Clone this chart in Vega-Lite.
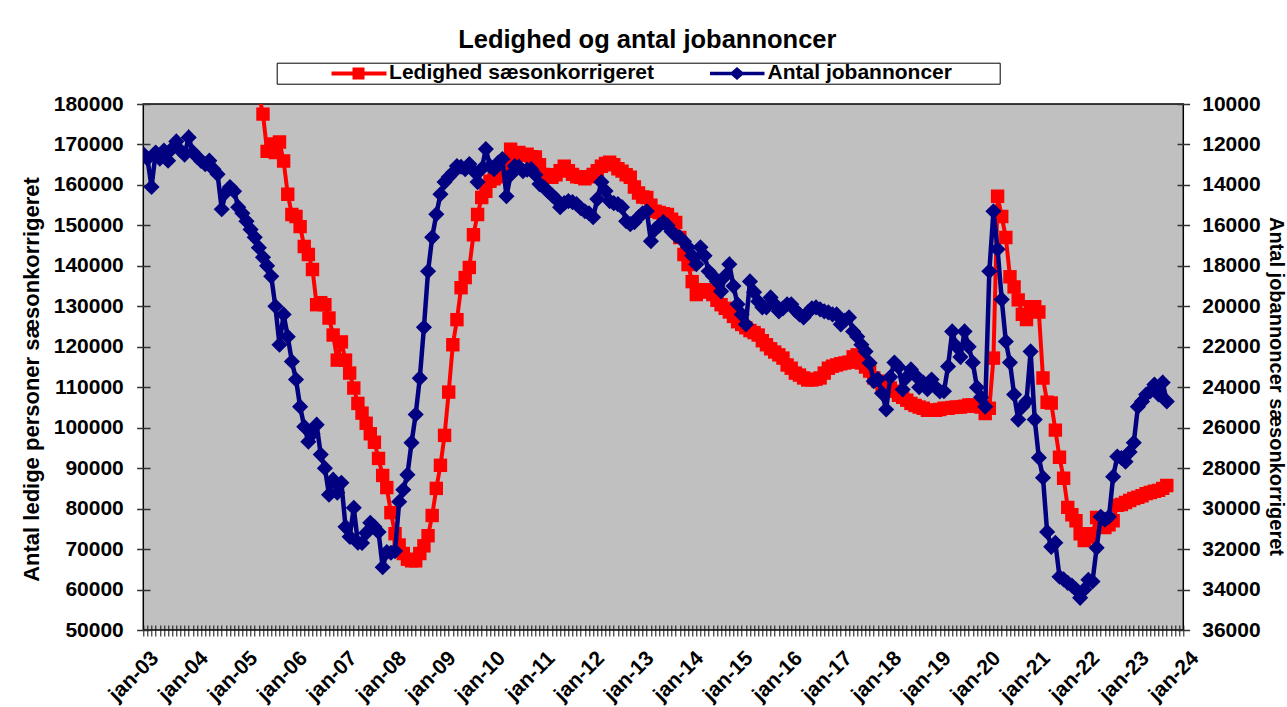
{
"$schema": "https://vega.github.io/schema/vega-lite/v6.json",
"width": 1040,
"height": 526,
"autosize": {"type": "none"},
"padding": {"left": 143.3, "top": 104, "right": 103.7, "bottom": 77},
"background": "white",
"config": {"view": {"fill": "#C0C0C0", "stroke": "#000", "strokeWidth": 1.5}, "font": "Liberation Sans"},
"title": {"text": "Ledighed og antal jobannoncer", "font": "Liberation Sans", "fontSize": 25.5, "fontWeight": "bold", "color": "#000", "anchor": "middle", "dx": -16, "offset": 9},
"datasets": {
"red": [
{"m":27,"v":188000},{"m":28,"v":182200},{"m":29,"v":177500},{"m":30,"v":168300},{"m":31,"v":170100},{"m":32,"v":168000},{"m":33,"v":170600},{"m":34,"v":165900},{"m":35,"v":157700},
{"m":36,"v":152700},{"m":37,"v":152200},{"m":38,"v":149700},{"m":39,"v":144800},{"m":40,"v":142800},{"m":41,"v":139100},{"m":42,"v":130400},{"m":43,"v":130900},{"m":44,"v":130400},{"m":45,"v":127100},{"m":46,"v":122900},{"m":47,"v":116700},
{"m":48,"v":121200},{"m":49,"v":116700},{"m":50,"v":113500},{"m":51,"v":109800},{"m":52,"v":106000},{"m":53,"v":103600},{"m":54,"v":101100},{"m":55,"v":98500},{"m":56,"v":96400},{"m":57,"v":92400},{"m":58,"v":88200},{"m":59,"v":85200},
{"m":60,"v":79000},{"m":61,"v":73800},{"m":62,"v":71000},{"m":63,"v":68900},{"m":64,"v":67500},{"m":65,"v":67100},{"m":66,"v":67100},{"m":67,"v":68900},{"m":68,"v":70800},{"m":69,"v":73300},{"m":70,"v":78300},{"m":71,"v":85000},
{"m":72,"v":90700},{"m":73,"v":98100},{"m":74,"v":108800},{"m":75,"v":120500},{"m":76,"v":126700},{"m":77,"v":134600},{"m":78,"v":137100},{"m":79,"v":139600},{"m":80,"v":147700},{"m":81,"v":152700},{"m":82,"v":156900},{"m":83,"v":158400},
{"m":84,"v":160900},{"m":85,"v":161500},{"m":86,"v":162000},{"m":87,"v":162600},{"m":88,"v":164000},{"m":89,"v":168800},{"m":90,"v":167000},{"m":91,"v":168000},{"m":92,"v":167300},{"m":93,"v":167600},{"m":94,"v":167000},{"m":95,"v":166900},
{"m":96,"v":165000},{"m":97,"v":162600},{"m":98,"v":162200},{"m":99,"v":161900},{"m":100,"v":162500},{"m":101,"v":163500},{"m":102,"v":164600},{"m":103,"v":163500},{"m":104,"v":162600},{"m":105,"v":162000},{"m":106,"v":161900},{"m":107,"v":161500},
{"m":108,"v":162000},{"m":109,"v":162600},{"m":110,"v":163500},{"m":111,"v":164600},{"m":112,"v":165300},{"m":113,"v":165600},{"m":114,"v":165000},{"m":115,"v":164000},{"m":116,"v":163400},{"m":117,"v":162500},{"m":118,"v":161900},{"m":119,"v":159500},
{"m":120,"v":158000},{"m":121,"v":157000},{"m":122,"v":156900},{"m":123,"v":155000},{"m":124,"v":153500},{"m":125,"v":153200},{"m":126,"v":152900},{"m":127,"v":152700},{"m":128,"v":151500},{"m":129,"v":150700},{"m":130,"v":147000},{"m":131,"v":142800},
{"m":132,"v":140300},{"m":133,"v":136100},{"m":134,"v":132900},{"m":135,"v":133500},{"m":136,"v":134100},{"m":137,"v":133800},{"m":138,"v":132900},{"m":139,"v":131500},{"m":140,"v":130400},{"m":141,"v":129500},{"m":142,"v":128600},{"m":143,"v":127500},
{"m":144,"v":126200},{"m":145,"v":125500},{"m":146,"v":124700},{"m":147,"v":124000},{"m":148,"v":123500},{"m":149,"v":122900},{"m":150,"v":121500},{"m":151,"v":120500},{"m":152,"v":119500},{"m":153,"v":118700},{"m":154,"v":118000},{"m":155,"v":117200},
{"m":156,"v":115500},{"m":157,"v":114700},{"m":158,"v":113500},{"m":159,"v":113000},{"m":160,"v":112300},{"m":161,"v":111800},{"m":162,"v":111800},{"m":163,"v":112000},{"m":164,"v":112300},{"m":165,"v":113500},{"m":166,"v":114700},{"m":167,"v":115200},
{"m":168,"v":115500},{"m":169,"v":115800},{"m":170,"v":116000},{"m":171,"v":116200},{"m":172,"v":117500},{"m":173,"v":118000},{"m":174,"v":116000},{"m":175,"v":115000},{"m":176,"v":114000},{"m":177,"v":112300},{"m":178,"v":111500},{"m":179,"v":110500},
{"m":180,"v":110000},{"m":181,"v":109800},{"m":182,"v":109000},{"m":183,"v":108000},{"m":184,"v":107500},{"m":185,"v":106800},{"m":186,"v":106000},{"m":187,"v":105500},{"m":188,"v":105100},{"m":189,"v":104800},{"m":190,"v":104300},{"m":191,"v":104300},
{"m":192,"v":104300},{"m":193,"v":104500},{"m":194,"v":104800},{"m":195,"v":104800},{"m":196,"v":105000},{"m":197,"v":105100},{"m":198,"v":105100},{"m":199,"v":105300},{"m":200,"v":105600},{"m":201,"v":105600},{"m":202,"v":105300},{"m":203,"v":105100},
{"m":204,"v":103500},{"m":205,"v":104800},{"m":206,"v":117200},{"m":207,"v":157200},{"m":208,"v":152200},{"m":209,"v":147000},{"m":210,"v":137300},{"m":211,"v":134800},{"m":212,"v":131600},{"m":213,"v":128000},{"m":214,"v":126700},{"m":215,"v":129900},
{"m":216,"v":129900},{"m":217,"v":128600},{"m":218,"v":112300},{"m":219,"v":106300},{"m":220,"v":106100},{"m":221,"v":99400},{"m":222,"v":92700},{"m":223,"v":87500},{"m":224,"v":80300},{"m":225,"v":78500},{"m":226,"v":77000},{"m":227,"v":73800},
{"m":228,"v":72100},{"m":229,"v":73000},{"m":230,"v":73800},{"m":231,"v":77800},{"m":232,"v":76500},{"m":233,"v":75300},{"m":234,"v":76000},{"m":235,"v":77000},{"m":236,"v":80800},{"m":237,"v":81000},{"m":238,"v":81500},{"m":239,"v":82000},
{"m":240,"v":82500},{"m":241,"v":82800},{"m":242,"v":83200},{"m":243,"v":83700},{"m":244,"v":84000},{"m":245,"v":84300},{"m":246,"v":84500},{"m":247,"v":85000},{"m":248,"v":85700}
],
"blue": [
{"m":0,"v":12480},{"m":1,"v":12700},{"m":2,"v":14100},{"m":3,"v":12400},{"m":4,"v":12700},{"m":5,"v":12300},{"m":6,"v":12800},{"m":7,"v":12200},{"m":8,"v":11850},{"m":9,"v":12300},{"m":10,"v":12500},{"m":11,"v":11650},
{"m":12,"v":12380},{"m":13,"v":12600},{"m":14,"v":12820},{"m":15,"v":12970},{"m":16,"v":12800},{"m":17,"v":13220},{"m":18,"v":13470},{"m":19,"v":15200},{"m":20,"v":14360},{"m":21,"v":14100},{"m":22,"v":14310},{"m":23,"v":15100},
{"m":24,"v":15400},{"m":25,"v":15790},{"m":26,"v":16200},{"m":27,"v":16590},{"m":28,"v":17100},{"m":29,"v":17580},{"m":30,"v":18000},{"m":31,"v":18520},{"m":32,"v":20000},{"m":33,"v":21900},{"m":34,"v":20400},{"m":35,"v":21500},
{"m":36,"v":22730},{"m":37,"v":23620},{"m":38,"v":24960},{"m":39,"v":25950},{"m":40,"v":26690},{"m":41,"v":26300},{"m":42,"v":25850},{"m":43,"v":27330},{"m":44,"v":28000},{"m":45,"v":29310},{"m":46,"v":28570},{"m":47,"v":29210},
{"m":48,"v":28720},{"m":49,"v":30900},{"m":50,"v":31390},{"m":51,"v":29960},{"m":52,"v":31690},{"m":53,"v":31700},{"m":54,"v":31200},{"m":55,"v":30700},{"m":56,"v":30900},{"m":57,"v":31150},{"m":58,"v":32900},{"m":59,"v":32150},
{"m":60,"v":32180},{"m":61,"v":32100},{"m":62,"v":29660},{"m":63,"v":29070},{"m":64,"v":28320},{"m":65,"v":26740},{"m":66,"v":25350},{"m":67,"v":23550},{"m":68,"v":21040},{"m":69,"v":18270},{"m":70,"v":16590},{"m":71,"v":15450},
{"m":72,"v":14460},{"m":73,"v":13860},{"m":74,"v":13610},{"m":75,"v":13400},{"m":76,"v":13070},{"m":77,"v":13100},{"m":78,"v":13220},{"m":79,"v":12970},{"m":80,"v":13300},{"m":81,"v":13860},{"m":82,"v":13200},{"m":83,"v":12230},
{"m":84,"v":13070},{"m":85,"v":13220},{"m":86,"v":12900},{"m":87,"v":12720},{"m":88,"v":14560},{"m":89,"v":13500},{"m":90,"v":13070},{"m":91,"v":13100},{"m":92,"v":13320},{"m":93,"v":13250},{"m":94,"v":13220},{"m":95,"v":13500},
{"m":96,"v":13960},{"m":97,"v":14100},{"m":98,"v":14310},{"m":99,"v":14500},{"m":100,"v":14700},{"m":101,"v":15100},{"m":102,"v":14900},{"m":103,"v":14800},{"m":104,"v":14850},{"m":105,"v":14950},{"m":106,"v":15150},{"m":107,"v":15300},
{"m":108,"v":15400},{"m":109,"v":15600},{"m":110,"v":14700},{"m":111,"v":13860},{"m":112,"v":14300},{"m":113,"v":14800},{"m":114,"v":14900},{"m":115,"v":14950},{"m":116,"v":15100},{"m":117,"v":15790},{"m":118,"v":15940},{"m":119,"v":15840},
{"m":120,"v":15600},{"m":121,"v":15400},{"m":122,"v":15300},{"m":123,"v":16780},{"m":124,"v":16200},{"m":125,"v":16000},{"m":126,"v":15840},{"m":127,"v":16000},{"m":128,"v":16300},{"m":129,"v":16500},{"m":130,"v":16590},{"m":131,"v":16800},
{"m":132,"v":17080},{"m":133,"v":17500},{"m":134,"v":17920},{"m":135,"v":17080},{"m":136,"v":17500},{"m":137,"v":18270},{"m":138,"v":18500},{"m":139,"v":18770},{"m":140,"v":19260},{"m":141,"v":18500},{"m":142,"v":17920},{"m":143,"v":19000},
{"m":144,"v":19900},{"m":145,"v":20400},{"m":146,"v":20890},{"m":147,"v":18770},{"m":148,"v":19300},{"m":149,"v":19760},{"m":150,"v":20050},{"m":151,"v":20050},{"m":152,"v":19560},{"m":153,"v":19900},{"m":154,"v":20250},{"m":155,"v":20100},
{"m":156,"v":19900},{"m":157,"v":19900},{"m":158,"v":20200},{"m":159,"v":20400},{"m":160,"v":20550},{"m":161,"v":20300},{"m":162,"v":20100},{"m":163,"v":20050},{"m":164,"v":20150},{"m":165,"v":20250},{"m":166,"v":20300},{"m":167,"v":20400},
{"m":168,"v":20400},{"m":169,"v":20890},{"m":170,"v":20700},{"m":171,"v":20550},{"m":172,"v":21240},{"m":173,"v":21500},{"m":174,"v":21900},{"m":175,"v":22230},{"m":176,"v":22800},{"m":177,"v":23700},{"m":178,"v":23600},{"m":179,"v":24300},
{"m":180,"v":25100},{"m":181,"v":23500},{"m":182,"v":22780},{"m":183,"v":23000},{"m":184,"v":24110},{"m":185,"v":23500},{"m":186,"v":23120},{"m":187,"v":23400},{"m":188,"v":24000},{"m":189,"v":23770},{"m":190,"v":24100},{"m":191,"v":23620},
{"m":192,"v":24000},{"m":193,"v":24210},{"m":194,"v":24200},{"m":195,"v":22970},{"m":196,"v":21240},{"m":197,"v":21980},{"m":198,"v":22500},{"m":199,"v":21240},{"m":200,"v":22000},{"m":201,"v":22780},{"m":202,"v":24010},{"m":203,"v":24500},
{"m":204,"v":24960},{"m":205,"v":18270},{"m":206,"v":15300},{"m":207,"v":17180},{"m":208,"v":19660},{"m":209,"v":21740},{"m":210,"v":22780},{"m":211,"v":24360},{"m":212,"v":25600},{"m":213,"v":24960},{"m":214,"v":24700},{"m":215,"v":22230},
{"m":216,"v":25600},{"m":217,"v":27480},{"m":218,"v":28470},{"m":219,"v":31150},{"m":220,"v":31890},{"m":221,"v":31690},{"m":222,"v":33370},{"m":223,"v":33500},{"m":224,"v":33670},{"m":225,"v":33800},{"m":226,"v":34000},{"m":227,"v":34410},
{"m":228,"v":34000},{"m":229,"v":33520},{"m":230,"v":33600},{"m":231,"v":31940},{"m":232,"v":30400},{"m":233,"v":30550},{"m":234,"v":30400},{"m":235,"v":28420},{"m":236,"v":27430},{"m":237,"v":27500},{"m":238,"v":27680},{"m":239,"v":27200},
{"m":240,"v":26740},{"m":241,"v":24960},{"m":242,"v":24700},{"m":243,"v":24360},{"m":244,"v":24200},{"m":245,"v":23870},{"m":246,"v":24360},{"m":247,"v":23770},{"m":248,"v":24700}
]
},
"layer": [
{
"data": {"name": "red"},
"encoding": {
"x": {"field": "m", "type": "quantitative", "scale": {"domain": [0, 252], "nice": false, "zero": false},
"axis": {"orient": "bottom", "tickCount": 300, "values": [0,1,2,3,4,5,6,7,8,9,10,11,12,13,14,15,16,17,18,19,20,21,22,23,24,25,26,27,28,29,30,31,32,33,34,35,36,37,38,39,40,41,42,43,44,45,46,47,48,49,50,51,52,53,54,55,56,57,58,59,60,61,62,63,64,65,66,67,68,69,70,71,72,73,74,75,76,77,78,79,80,81,82,83,84,85,86,87,88,89,90,91,92,93,94,95,96,97,98,99,100,101,102,103,104,105,106,107,108,109,110,111,112,113,114,115,116,117,118,119,120,121,122,123,124,125,126,127,128,129,130,131,132,133,134,135,136,137,138,139,140,141,142,143,144,145,146,147,148,149,150,151,152,153,154,155,156,157,158,159,160,161,162,163,164,165,166,167,168,169,170,171,172,173,174,175,176,177,178,179,180,181,182,183,184,185,186,187,188,189,190,191,192,193,194,195,196,197,198,199,200,201,202,203,204,205,206,207,208,209,210,211,212,213,214,215,216,217,218,219,220,221,222,223,224,225,226,227,228,229,230,231,232,233,234,235,236,237,238,239,240,241,242,243,244,245,246,247,248,249,250,251,252], "labelExpr": "datum.value % 12 == 0 ? 'jan-' + (datum.value/12 + 3 < 10 ? '0' : '') + (datum.value/12 + 3) : ''", "labelAngle": -45, "labelFont": "Liberation Sans", "labelFontSize": 21, "labelFontWeight": "bold", "labelColor": "#000", "labelOverlap": false, "labelBound": false, "labelFlush": false, "labelPadding": 11, "labelOffset": 4, "ticks": true, "tickSize": 11, "offset": -5, "tickColor": "#111", "tickWidth": 1, "domain": false, "grid": false, "title": null}},
"y": {"field": "v", "type": "quantitative", "scale": {"domain": [50000, 180000], "nice": false, "zero": false},
"axis": {"orient": "left", "values": [50000,60000,70000,80000,90000,100000,110000,120000,130000,140000,150000,160000,170000,180000], "format": "d", "labelFont": "Liberation Sans", "labelFontSize": 21, "labelFontWeight": "bold", "labelColor": "#000", "labelOverlap": false, "labelBound": false, "labelFlush": false, "offset": -6.7, "domain": false, "tickSize": 13.4, "tickColor": "#333", "tickWidth": 1.5, "labelPadding": 13.3, "grid": false, "title": "Antal ledige personer sæsonkorrigeret", "titleFont": "Liberation Sans", "titleFontSize": 22, "titleFontWeight": "bold", "titleColor": "#000", "titlePadding": 10, "titleY": 275}}
},
"layer": [
{"mark": {"type": "line", "strokeWidth": 4, "clip": true},
"encoding": {"color": {"datum": "Ledighed sæsonkorrigeret", "type": "nominal", "scale": {"domain": ["Ledighed sæsonkorrigeret", "Antal jobannoncer"], "range": ["#FF0000", "#000080"]},
"legend": {"orient": "none", "legendX": 133.4, "legendY": -41.3, "direction": "horizontal", "title": null, "padding": 0, "strokeColor": "#000", "fillColor": "#fff", "labelFont": "Liberation Sans", "labelFontSize": 21, "labelFontWeight": "bold", "labelColor": "#000", "labelLimit": 0, "symbolSize": 100, "symbolStrokeWidth": 0, "symbolOffset": 71.3, "labelOffset": 20.1, "columnPadding": 0.5,
"encode": {"symbols": {"update": {"shape": {"signal": "datum.value == 'Antal jobannoncer' ? 'M-5.4,-0.35H5.5V0.35H-5.4Z M-1.5,0L0,-1.3L1.5,0L0,1.3Z M52.5,0' : 'M-5.4,-0.4H5.6V0.4H-5.4Z M-1.2,-1.2H1.2V1.2H-1.2Z'"}, "fill": {"signal": "datum.value == 'Antal jobannoncer' ? '#000080' : '#FF0000'"}, "stroke": {"value": "transparent"}, "strokeWidth": {"value": 0}, "opacity": {"value": 1}}}}}}}},
{"mark": {"type": "point", "shape": "square", "filled": true, "size": 180, "color": "#FF0000", "opacity": 1, "strokeWidth": 0, "clip": true}}
]
},
{
"data": {"name": "blue"},
"encoding": {
"x": {"field": "m", "type": "quantitative", "scale": {"domain": [0, 252], "nice": false, "zero": false}},
"y": {"field": "v", "type": "quantitative", "scale": {"domain": [10000, 36000], "nice": false, "zero": false, "reverse": true},
"axis": {"orient": "right", "values": [10000,12000,14000,16000,18000,20000,22000,24000,26000,28000,30000,32000,34000,36000], "format": "d", "labelFont": "Liberation Sans", "labelFontSize": 21, "labelFontWeight": "bold", "labelColor": "#000", "labelOverlap": false, "labelBound": false, "labelFlush": false, "offset": -6.3, "domain": false, "tickSize": 12.6, "tickColor": "#333", "tickWidth": 1.5, "labelPadding": 12.1, "grid": false, "title": "Antal jobannoncer sæsonkorrigeret", "titleFont": "Liberation Sans", "titleFontSize": 20, "titleFontWeight": "bold", "titleColor": "#000", "titlePadding": 5, "titleY": 282}}
},
"layer": [
{"mark": {"type": "line", "strokeWidth": 4.5, "clip": true},
"encoding": {"color": {"datum": "Antal jobannoncer", "type": "nominal"}}},
{"mark": {"type": "point", "shape": "diamond", "filled": true, "size": 260, "color": "#000080", "opacity": 1, "strokeWidth": 0, "clip": true}}
]
}
],
"resolve": {"scale": {"y": "independent"}}
}
